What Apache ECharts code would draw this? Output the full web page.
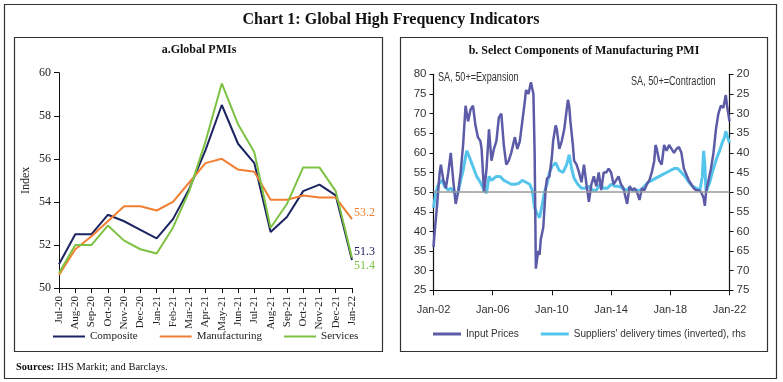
<!DOCTYPE html>
<html><head><meta charset="utf-8">
<script src="https://cdn.jsdelivr.net/npm/echarts@6/dist/echarts.min.js"></script>
<style>html,body{margin:0;padding:0;background:#fff}#c{width:783px;height:382px}</style>
</head><body><div id="c"></div>
<script>
// ---- Panel a: Global PMIs ----
const pmiMonths = ['Jul-20','Aug-20','Sep-20','Oct-20','Nov-20','Dec-20','Jan-21','Feb-21','Mar-21','Apr-21','May-21','Jun-21','Jul-21','Aug-21','Sep-21','Oct-21','Nov-21','Dec-21','Jan-22'];
const composite     = [51.1,52.5,52.5,53.4,53.1,52.7,52.3,53.2,54.6,56.4,58.5,56.7,55.8,52.6,53.3,54.5,54.8,54.3,51.3];
const manufacturing = [50.6,51.8,52.4,53.1,53.8,53.8,53.6,54.0,54.9,55.8,56.0,55.5,55.4,54.1,54.1,54.3,54.2,54.2,53.2];
const services      = [50.7,52.0,52.0,52.9,52.2,51.8,51.6,52.8,54.5,56.8,59.5,57.6,56.3,52.8,53.9,55.6,55.6,54.5,51.4];
const pmiTicks = [50,52,54,56,58,60];

// ---- Panel b: Select components of manufacturing PMI ----
const ipDates = ['2002-01','2002-02','2002-04','2002-06','2002-07','2002-09','2002-11','2003-01','2003-03','2003-05','2003-07','2003-09','2003-11',
'2004-01','2004-03','2004-05','2004-07','2004-09','2004-11','2005-01','2005-03','2005-04','2005-06','2005-08','2005-10','2005-12',
'2006-02','2006-04','2006-06','2006-08','2006-10','2006-12','2007-02','2007-04','2007-07','2007-09','2007-11',
'2008-01','2008-03','2008-04','2008-06','2008-08','2008-10','2008-11','2008-12','2009-01','2009-02','2009-03','2009-04','2009-06','2009-08','2009-09','2009-11',
'2010-01','2010-02','2010-04','2010-05','2010-07','2010-09','2010-11','2011-01','2011-02','2011-03','2011-04','2011-06','2011-07','2011-09','2011-11',
'2012-01','2012-03','2012-05','2012-07','2012-09','2012-11','2013-01','2013-03','2013-05','2013-07','2013-09','2013-11',
'2014-01','2014-03','2014-05','2014-07','2014-09','2014-11','2015-02','2015-04','2015-06','2015-08','2015-10','2015-12',
'2016-02','2016-04','2016-06','2016-08','2016-10','2016-12','2017-01','2017-02','2017-04','2017-06','2017-08','2017-10','2017-12',
'2018-02','2018-04','2018-06','2018-08','2018-10','2018-12','2019-02','2019-04','2019-06','2019-08','2019-10','2019-12',
'2020-02','2020-04','2020-05','2020-06','2020-08','2020-10','2020-12','2021-02','2021-04','2021-06','2021-08','2021-09','2021-10','2021-11','2021-12','2022-01'];
const inputPrices = [36,40,47,55,57,53,51,55,60,53,47,50,55,
62,72,68,71,72,67,64,63,61,50,56,66,58,
61,63,69,70,62,57,58,60,64,61,63,
68,73,76,75,78,75,60,30.5,33,35,34,38,41,51,53.5,54,
59,63,67,66,61,63,66,71,73.5,72,68,62,58,57,55,
52.5,57,52,47.5,52,54,51.5,55,50.5,55,55,56,
55,52,53,54,52,51,47,51.5,50.5,51,50,48,
51,50.5,52,53,55,58,62,61,58,57,62,60.5,62,
61,60,61,61.5,60,56,54.5,53,52,51,50.5,50.5,
50,48.5,46.5,50,53,56,60,66,70,72,71.5,72,74.7,72,70,68];

const sdDates = ['2002-01','2002-03','2002-05','2002-08','2002-10','2003-01','2003-03','2003-06','2003-09','2003-11',
'2004-01','2004-03','2004-04','2004-06','2004-09','2004-12','2005-03','2005-06','2005-08','2005-10','2005-12',
'2006-02','2006-04','2006-07','2006-10','2007-01','2007-04','2007-07','2007-10','2008-01','2008-04','2008-07','2008-09','2008-11',
'2009-01','2009-03','2009-05','2009-07','2009-09','2009-11','2010-01','2010-04','2010-07','2010-10','2011-01','2011-03','2011-05','2011-07','2011-10',
'2012-01','2012-04','2012-07','2012-10','2013-01','2013-04','2013-07','2013-10','2014-01','2014-04','2014-07','2014-10',
'2015-01','2015-04','2015-07','2015-10','2016-01','2016-04','2016-07','2016-10','2017-01','2017-04','2017-07','2017-10',
'2018-01','2018-04','2018-07','2018-10','2019-01','2019-04','2019-07','2019-10','2020-01','2020-03','2020-04','2020-05','2020-06','2020-07','2020-09','2020-11',
'2021-01','2021-03','2021-05','2021-07','2021-09','2021-10','2021-11','2021-12','2022-01'];
const suppliersInv = [54,50,48,47,48.5,49.5,49,50.2,50,47,
44.5,41,39.5,41,43.5,46,47.5,49.5,50.2,46,47,
46.5,46,46,47,47.5,48,48,47.8,47,47.5,48,49.5,54,
55.5,56.5,53.5,50,48,45,43.5,42.5,44.5,45,43,40.5,44,46.5,48,
49,49,48.5,49.5,49.5,48,49,49,48,48.5,48.5,49,
49.5,49,49.5,49.5,49.5,48.5,47.5,47,46.5,46,45.5,45,
44.5,44,44,45,46,47.5,48.5,49,49.5,46,39.5,43,50,49,47.5,45,
43,41,39.5,37.5,36,34.5,35.5,36.5,37.5];
const lhsTicks = [25,30,35,40,45,50,55,60,65,70,75,80];
const rhsTicks = [20,25,30,35,40,45,50,55,60,65,70,75];
const xTickLabels = ['Jan-02','Jan-06','Jan-10','Jan-14','Jan-18','Jan-22'];

const serif = "'Liberation Serif','DejaVu Serif',serif";
const sans = "'Liberation Sans','Arimo',sans-serif";
const toM = d => { const [y,m] = d.split('-').map(Number); return (y-2002)*12 + (m-1); };

const cComp = '#1c2462', cMan = '#f07f32', cSer = '#7dc242';
const cIP = '#5b5ba8', cSD = '#56c5ec';
function endLbl(color, off){
  return {show:true, formatter:'{c}', color:color, fontFamily:serif, fontSize:12, distance:2, offset:off};
}

const chart = echarts.init(document.getElementById('c'), null, {renderer:'canvas'});
chart.setOption({
  backgroundColor:'#fff',
  animation:false,
  grid:[
    {left:59, top:72.7, width:293, height:215.3, outerBoundsMode:'none'},
    {left:433.5, top:74.3, width:296, height:216, outerBoundsMode:'none'}
  ],
  xAxis:[
    {gridIndex:0, type:'category', data:pmiMonths, boundaryGap:false,
     axisLine:{lineStyle:{color:'#111', width:1}}, axisTick:{length:5, lineStyle:{color:'#111'}},
     axisLabel:{rotate:90, fontFamily:serif, fontSize:11, color:'#222', margin:8, interval:0},
     splitLine:{show:false}},
    {gridIndex:1, type:'value', min:0, max:240, interval:48,
     axisLine:{lineStyle:{color:'#111', width:1.2}}, axisTick:{length:5, lineStyle:{color:'#111'}},
     axisLabel:{fontFamily:sans, fontSize:11, color:'#333', margin:14, formatter:v=>xTickLabels[v/48]},
     splitLine:{show:false}}
  ],
  yAxis:[
    {gridIndex:0, type:'value', min:pmiTicks[0], max:pmiTicks[pmiTicks.length-1], interval:2,
     name:'Index', nameLocation:'middle', nameGap:27, nameRotate:90,
     nameTextStyle:{fontFamily:serif, fontSize:12, color:'#222'},
     axisLine:{show:true, lineStyle:{color:'#111', width:1}}, axisTick:{show:true, length:5, lineStyle:{color:'#111'}},
     axisLabel:{fontFamily:serif, fontSize:12, color:'#222', margin:8},
     splitLine:{show:false}},
    {gridIndex:1, type:'value', min:lhsTicks[0], max:lhsTicks[lhsTicks.length-1], interval:5, position:'left',
     axisLine:{show:true, lineStyle:{color:'#111', width:1.2}}, axisTick:{show:true, length:4, lineStyle:{color:'#111'}},
     axisLabel:{fontFamily:sans, fontSize:11.5, color:'#333', margin:7},
     splitLine:{show:false}},
    {gridIndex:1, type:'value', min:rhsTicks[0], max:rhsTicks[rhsTicks.length-1], interval:5, position:'right', inverse:true,
     axisLine:{show:true, lineStyle:{color:'#111', width:1.2}}, axisTick:{show:true, length:4, lineStyle:{color:'#111'}},
     axisLabel:{fontFamily:sans, fontSize:11.5, color:'#333', margin:7},
     splitLine:{show:false}}
  ],
  legend:[
    {data:['Composite','Manufacturing','Services'], left:48, top:326, icon:'rect', itemWidth:32, itemHeight:2, itemGap:22,
     textStyle:{fontFamily:serif, fontSize:11, color:'#222'}},
    {data:['Input Prices',"Suppliers' delivery times (inverted), rhs"], left:428, top:324, icon:'rect', itemWidth:28, itemHeight:3, itemGap:22,
     textStyle:{fontFamily:sans, fontSize:10, color:'#333'}}
  ],
  series:[
    {name:'Composite', type:'line', xAxisIndex:0, yAxisIndex:0, data:composite, symbol:'none', color:cComp, lineStyle:{width:2, color:cComp}, endLabel:endLbl(cComp,[0,-8])},
    {name:'Manufacturing', type:'line', xAxisIndex:0, yAxisIndex:0, data:manufacturing, symbol:'none', color:cMan, lineStyle:{width:2, color:cMan}, endLabel:endLbl(cMan,[0,-6])},
    {name:'Services', type:'line', xAxisIndex:0, yAxisIndex:0, data:services, symbol:'none', color:cSer, lineStyle:{width:2, color:cSer}, endLabel:endLbl(cSer,[0,8])},
    {name:'Input Prices', type:'line', xAxisIndex:1, yAxisIndex:1, data:ipDates.map((d,i)=>[toM(d), inputPrices[i]]), symbol:'none', color:cIP, lineStyle:{width:2.5, color:cIP}, z:3,
     markLine:{silent:true, symbol:'none', label:{show:false}, lineStyle:{color:'#9a9a9a', width:1.5, type:'solid'}, data:[{yAxis:50}]}},
    {name:"Suppliers' delivery times (inverted), rhs", type:'line', xAxisIndex:1, yAxisIndex:2, data:sdDates.map((d,i)=>[toM(d), suppliersInv[i]]), symbol:'none', color:cSD, lineStyle:{width:3, color:cSD}, z:2}
  ],
  graphic:[
    {type:'rect', shape:{x:4.5, y:4.5, width:772, height:374}, style:{fill:'none', stroke:'#333', lineWidth:1.2}, silent:true},
    {type:'rect', shape:{x:14.5, y:37.5, width:368, height:314}, style:{fill:'none', stroke:'#333', lineWidth:1.2}, silent:true},
    {type:'rect', shape:{x:400.5, y:37.5, width:367, height:314}, style:{fill:'none', stroke:'#333', lineWidth:1.2}, silent:true},
    {type:'text', x:391, y:20, style:{text:'Chart 1: Global High Frequency Indicators', fontFamily:serif, fontWeight:'bold', fontSize:16, fill:'#111', textAlign:'center', textVerticalAlign:'middle'}},
    {type:'text', x:199, y:50, style:{text:'a.Global PMIs', fontFamily:serif, fontWeight:'bold', fontSize:12, fill:'#111', textAlign:'center', textVerticalAlign:'middle'}},
    {type:'text', x:584, y:51, style:{text:'b. Select Components of Manufacturing PMI', fontFamily:serif, fontWeight:'bold', fontSize:12, fill:'#111', textAlign:'center', textVerticalAlign:'middle'}},
    {type:'text', x:438, y:78, scaleX:0.76, style:{text:'SA, 50+=Expansion', fontFamily:sans, fontSize:12, fill:'#333', textAlign:'left', textVerticalAlign:'middle'}},
    {type:'text', x:631, y:82, scaleX:0.76, style:{text:'SA, 50+=Contraction', fontFamily:sans, fontSize:12, fill:'#333', textAlign:'left', textVerticalAlign:'middle'}},
    {type:'text', x:16, y:367, style:{text:'{b|Sources:} IHS Markit; and Barclays.', rich:{b:{fontWeight:'bold', fontFamily:serif, fontSize:10.5}}, fontFamily:serif, fontSize:10.5, fill:'#111', textAlign:'left', textVerticalAlign:'middle'}}
  ]
});
</script></body></html>
